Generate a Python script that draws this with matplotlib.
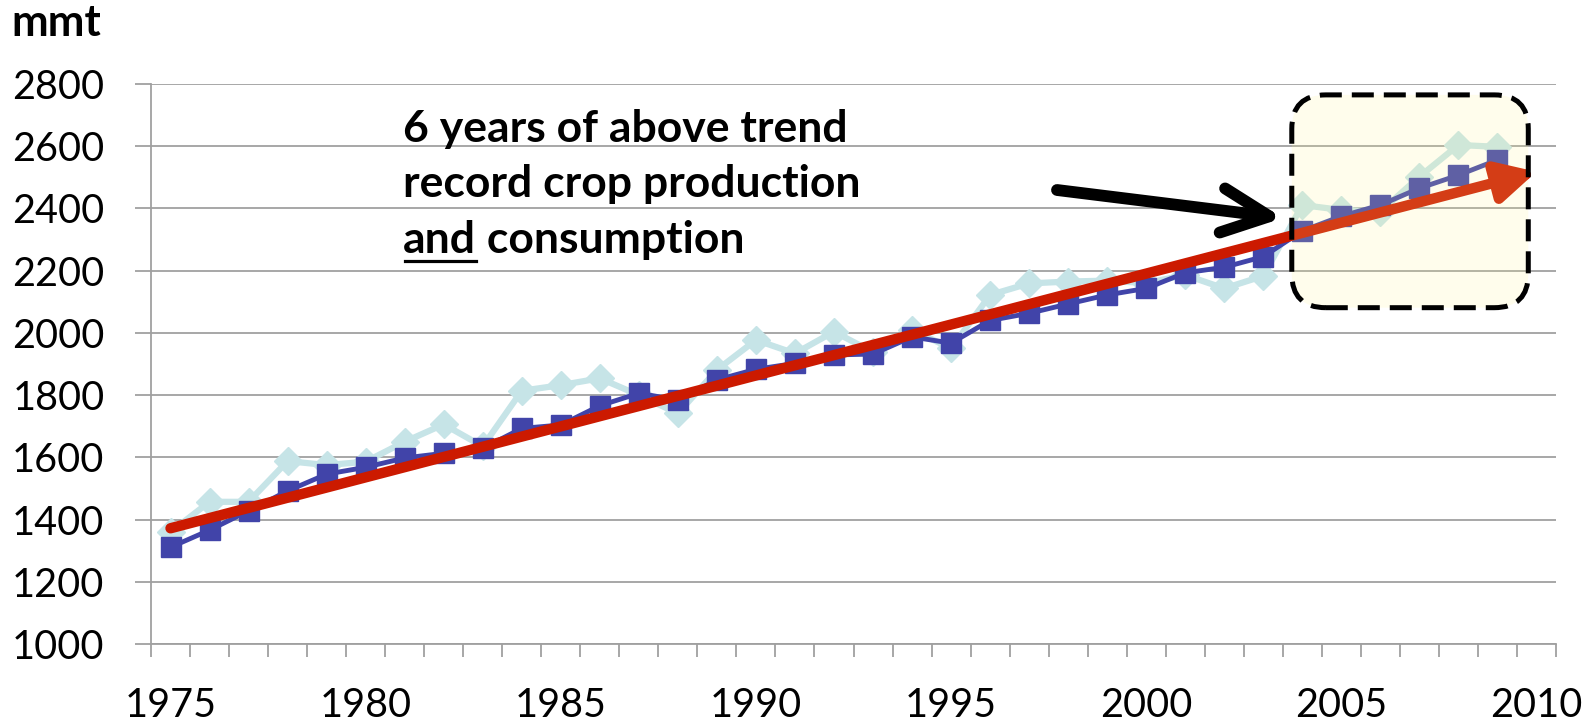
import matplotlib.pyplot as plt
from matplotlib.patches import FancyBboxPatch, FancyArrowPatch
from matplotlib.lines import Line2D

plt.rcParams['font.family'] = ['Lato', 'DejaVu Sans']

years = list(range(1975, 2010))
production = [1360, 1457, 1457, 1588, 1575, 1586, 1650, 1706, 1635, 1814,
              1832, 1854, 1800, 1741, 1881, 1977, 1934, 2004, 1938, 2010,
              1950, 2122, 2159, 2165, 2168, 2160, 2186, 2143, 2183, 2411,
              2395, 2390, 2502, 2604, 2598]
consumption = [1311, 1366, 1428, 1492, 1546, 1568, 1598, 1613, 1629, 1693,
               1704, 1766, 1806, 1784, 1849, 1883, 1902, 1929, 1932, 1987,
               1967, 2040, 2063, 2093, 2122, 2143, 2193, 2211, 2245, 2328,
               2375, 2411, 2465, 2507, 2556]
trend_years = [1975, 2010]
trend_vals = [1372, 2518]
box_years = [2003.73, 2009.79]
box_vals = [2081, 2765]
note_lines = ["6 years of above trend", "record crop production"]

fig = plt.figure(figsize=(15.92, 7.28), dpi=100)
ax = fig.add_axes([151 / 1592, 84 / 728, 1405 / 1592, 560 / 728])

ax.plot(years, production, color="#c6e4e7", lw=4.5, marker="D", ms=14,
        mec="#c6e4e7", zorder=3, clip_on=False)
ax.plot(years, consumption, color="#4144a9", lw=3.5, marker="s", ms=15,
        mec="#4144a9", zorder=4, clip_on=False)

# trend arrow
ax.add_patch(FancyArrowPatch((trend_years[0], trend_vals[0]), (trend_years[1], trend_vals[1]),
                             arrowstyle="-|>,head_length=2.3,head_width=1.2",
                             mutation_scale=10, lw=7.5, color="#cc1a00",
                             capstyle="round", zorder=5, shrinkA=0, shrinkB=0))

# highlight box (rounded corners in pixels)
xpx = 1405 / 36
ypx = 560 / 1800
box = FancyBboxPatch((box_years[0], box_vals[0]), box_years[1] - box_years[0],
                     box_vals[1] - box_vals[0],
                     boxstyle="round,pad=0,rounding_size=%f" % (34 / xpx),
                     mutation_aspect=xpx / ypx,
                     facecolor=(1.0, 0.97, 0.55, 0.16), edgecolor="black",
                     lw=3.6, linestyle=(0, (4.4, 2.0)), zorder=6)
ax.add_patch(box)

ax.set_xlim(1974.5, 2010.5)
ax.set_ylim(1000, 2800)
ax.set_yticks(range(1000, 2801, 200))
ax.set_xticks(range(1975, 2011, 5))
ax.set_xticks([y + 0.5 for y in range(1974, 2011)], minor=True)
ax.tick_params(axis="x", which="major", length=0, labelsize=28.5, pad=31)
ax.tick_params(axis="x", which="minor", length=9.5, width=1.3, color="#a0a0a0")
ax.tick_params(axis="y", length=11.5, width=1.3, color="#a0a0a0",
               labelsize=28.5, pad=22)
ax.grid(axis="y", color="#a0a0a0", lw=1.3)
ax.set_axisbelow(True)
for s in ["top", "right"]:
    ax.spines[s].set_visible(False)
for s in ["left", "bottom"]:
    ax.spines[s].set_color("#a0a0a0")
    ax.spines[s].set_linewidth(1.3)

fig.text(11 / 1592, 1 - 36 / 728, "mmt", fontsize=31.5, fontweight="bold",
         va="baseline")

# pointer arrow
fig.add_artist(FancyArrowPatch((1057 / 1592, 1 - 190 / 728), (1283 / 1592, 1 - 218 / 728),
                               transform=fig.transFigure,
                               arrowstyle="->,head_length=3.4,head_width=1.6",
                               mutation_scale=10, lw=8.5, color="black",
                               capstyle="round", joinstyle="round",
                               shrinkA=0, shrinkB=0, zorder=7))

tx = 403 / 1592
base = [141.7, 196.7, 253]
fs = 32
for line, b in zip(note_lines, base):
    fig.text(tx, 1 - b / 728, line, fontsize=fs, fontweight="bold", va="baseline")
t_and = fig.text(tx, 1 - base[2] / 728, "and", fontsize=fs, fontweight="bold",
                 va="baseline")
fig.canvas.draw()
bb = t_and.get_window_extent()
fig.text(bb.x1 / 1592, 1 - base[2] / 728, " consumption", fontsize=fs,
         fontweight="bold", va="baseline")
uy = 1 - 260.7 / 728
fig.add_artist(Line2D([bb.x0 / 1592 + 0.001, bb.x1 / 1592], [uy, uy],
                      transform=fig.transFigure, color="black", lw=2.3))

fig.savefig("out.png", dpi=100)
